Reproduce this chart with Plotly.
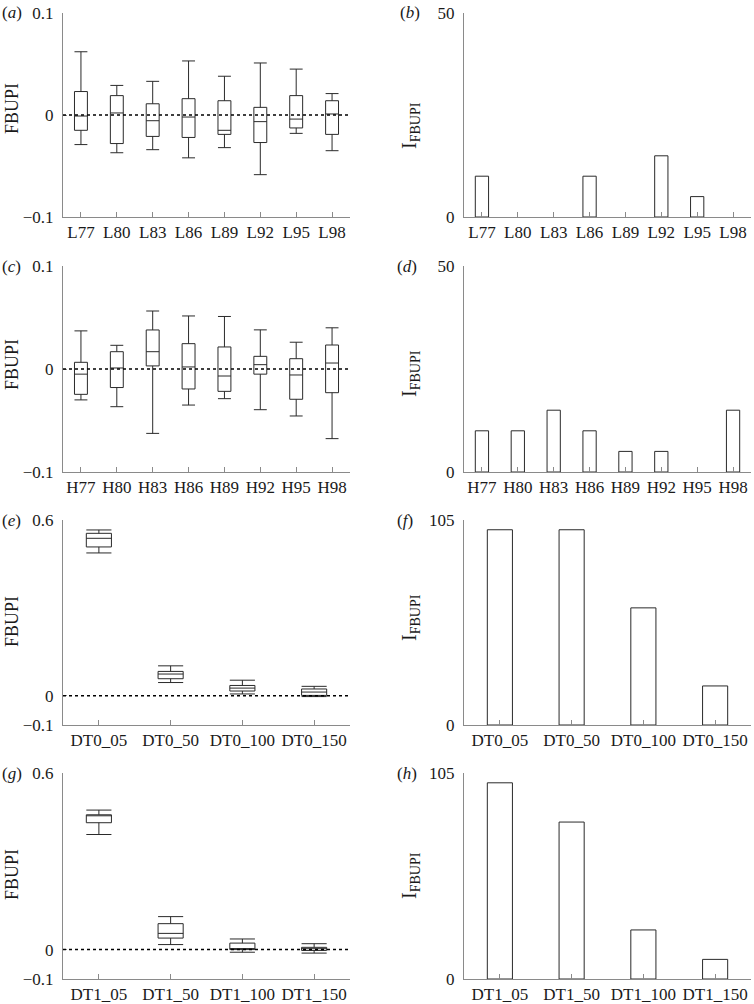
import plotly.graph_objects as go
from plotly.subplots import make_subplots

# ---------------- data ----------------
cats_a = ["L77", "L80", "L83", "L86", "L89", "L92", "L95", "L98"]
a_upper = [0.062, 0.029, 0.033, 0.053, 0.038, 0.051, 0.045, 0.021]
a_q3 = [0.023, 0.019, 0.011, 0.016, 0.014, 0.0075, 0.019, 0.014]
a_med = [-0.001, 0.002, -0.0056, -0.002, -0.015, -0.0065, -0.004, 0.001]
a_q1 = [-0.015, -0.028, -0.021, -0.022, -0.019, -0.027, -0.0127, -0.019]
a_lower = [-0.029, -0.037, -0.034, -0.042, -0.032, -0.0585, -0.018, -0.035]
b_vals = [10, 0, 0, 10, 0, 15, 5, 0]

cats_c = ["H77", "H80", "H83", "H86", "H89", "H92", "H95", "H98"]
c_upper = [0.037, 0.023, 0.0563, 0.0515, 0.051, 0.038, 0.026, 0.040]
c_q3 = [0.0065, 0.0168, 0.0379, 0.0246, 0.0214, 0.0123, 0.010, 0.0233]
c_med = [-0.005, 0.001, 0.0168, 0.002, -0.0068, 0.0042, -0.0058, 0.0058]
c_q1 = [-0.0246, -0.018, 0.003, -0.0194, -0.0217, -0.005, -0.0294, -0.023]
c_lower = [-0.030, -0.0366, -0.0625, -0.035, -0.0288, -0.0395, -0.0456, -0.0676]
d_vals = [10, 10, 15, 10, 5, 5, 0, 15]

cats_e = ["DT0_05", "DT0_50", "DT0_100", "DT0_150"]
e_upper = [0.566, 0.102, 0.053, 0.032]
e_q3 = [0.5545, 0.083, 0.035, 0.023]
e_med = [0.5375, 0.074, 0.026, 0.0125]
e_q1 = [0.508, 0.058, 0.016, 0.001]
e_lower = [0.4875, 0.045, 0.006, -0.003]
f_vals = [100, 100, 60, 20]

cats_g = ["DT1_05", "DT1_50", "DT1_100", "DT1_150"]
g_upper = [0.474, 0.112, 0.036, 0.020]
g_q3 = [0.458, 0.088, 0.022, 0.0076]
g_med = [0.455, 0.055, 0.001, 0.003]
g_q1 = [0.431, 0.039, 0.0, -0.003]
g_lower = [0.391, 0.017, -0.009, -0.012]
h_vals = [100, 80, 25, 10]

# ---------------- figure ----------------
W, H = 754, 1004
FONT = "Liberation Serif, Times New Roman, serif"
AXC = "#8a8a8a"
LNC = "#2a2a2a"
TXC = "#1a1a1a"

fig = make_subplots(rows=4, cols=2)

def box(cats, lo, q1, med, q3, hi, width):
    return go.Box(x=cats, lowerfence=lo, q1=q1, median=med, q3=q3, upperfence=hi,
                  fillcolor="white", line=dict(color=LNC, width=1), width=width,
                  whiskerwidth=1, boxpoints=False, showlegend=False, hoverinfo="skip")

def bar(cats, vals, width):
    lw = [1 if v > 0 else 0 for v in vals]
    return go.Bar(x=cats, y=vals, width=width,
                  marker=dict(color="white", line=dict(color=LNC, width=lw)),
                  showlegend=False, hoverinfo="skip")

fig.add_trace(box(cats_a, a_lower, a_q1, a_med, a_q3, a_upper, 0.36), 1, 1)
fig.add_trace(bar(cats_a, b_vals, 0.37), 1, 2)
fig.add_trace(box(cats_c, c_lower, c_q1, c_med, c_q3, c_upper, 0.36), 2, 1)
fig.add_trace(bar(cats_c, d_vals, 0.37), 2, 2)
fig.add_trace(box(cats_e, e_lower, e_q1, e_med, e_q3, e_upper, 0.35), 3, 1)
fig.add_trace(bar(cats_e, f_vals, 0.35), 3, 2)
fig.add_trace(box(cats_g, g_lower, g_q1, g_med, g_q3, g_upper, 0.35), 4, 1)
fig.add_trace(bar(cats_g, h_vals, 0.35), 4, 2)

def px_x(p):
    return p / W

def px_y(p):
    return 1 - p / H

xdom = {1: [px_x(63), px_x(350)], 2: [px_x(464), px_x(751)]}
rows_px = [(13, 217), (266, 472), (520, 725), (773, 979)]

yranges = [(-0.1, 0.1), (0, 50), (-0.1, 0.1), (0, 50), (-0.1, 0.6), (0, 105), (-0.1, 0.6), (0, 105)]
yticks = [[-0.1, 0, 0.1], [0, 50], [-0.1, 0, 0.1], [0, 50], [-0.1, 0, 0.6], [0, 105], [-0.1, 0, 0.6], [0, 105]]
ncats = [8, 8, 8, 8, 4, 4, 4, 4]

tickfont = dict(family=FONT, size=17, color=TXC)
for i in range(8):
    r = i // 2
    c = i % 2 + 1
    idx = "" if i == 0 else str(i + 1)
    top, bot = rows_px[r]
    fig.layout["xaxis" + idx].update(
        domain=xdom[c], type="category", range=[-0.5, ncats[i] - 0.5],
        showline=True, linecolor=AXC, linewidth=1, ticks="inside", ticklen=5,
        tickcolor=AXC, tickfont=tickfont, showgrid=False, zeroline=False,
        anchor="y" + idx, automargin=False)
    fig.layout["yaxis" + idx].update(
        domain=[px_y(bot), px_y(top)], range=list(yranges[i]), tickvals=yticks[i],
        showline=True, linecolor=AXC, linewidth=1, ticks="inside", ticklen=4,
        tickcolor=AXC, tickfont=tickfont, showgrid=False, zeroline=False,
        anchor="x" + idx, automargin=False, ticklabelstandoff=5)
    if c == 1:
        fig.add_shape(type="line", xref="x" + idx + " domain", yref="y" + idx,
                      x0=0, x1=1, y0=0, y1=0, line=dict(color="black", width=1.5, dash="dot"),
                      layer="above")

letters = ["a", "b", "c", "d", "e", "f", "g", "h"]
lab_x = [0, 398, 0, 395, 0, 395, 0, 395]
lab_y = [13, 13, 266, 266, 520, 520, 773, 773]
for i in range(8):
    fig.add_annotation(x=px_x(lab_x[i]), y=px_y(lab_y[i]), xref="paper", yref="paper",
                       text="(<i>%s</i>)" % letters[i], showarrow=False, xanchor="left",
                       yanchor="middle", font=dict(family=FONT, size=17, color=TXC))

left_title_y = [109, 365, 622, 875]
right_title_y = [125, 373, 617, 875]
for r in range(4):
    fig.add_annotation(x=px_x(12), y=px_y(left_title_y[r]), xref="paper", yref="paper",
                       text="FBUPI", textangle=-90, showarrow=False, xanchor="center", yanchor="middle",
                       font=dict(family=FONT, size=18, color=TXC))
    fig.add_annotation(x=px_x(410), y=px_y(right_title_y[r]), xref="paper", yref="paper",
                       text="I<sub>FBUPI</sub>", textangle=-90, showarrow=False, xanchor="center",
                       yanchor="middle", font=dict(family=FONT, size=20, color=TXC))

fig.update_layout(width=W, height=H, margin=dict(l=0, r=0, t=0, b=0),
                  paper_bgcolor="white", plot_bgcolor="white", showlegend=False,
                  font=dict(family=FONT, size=17))

fig.write_html("out.html", config={"displayModeBar": False},
               post_script="document.body.style.margin='0';document.body.style.overflow='hidden';")
